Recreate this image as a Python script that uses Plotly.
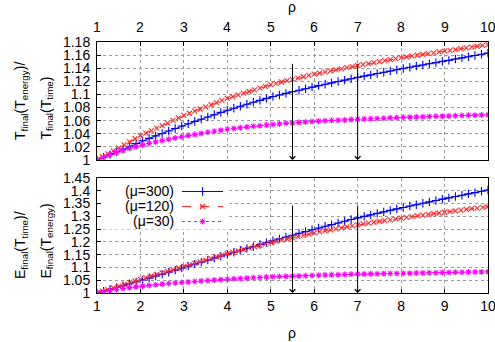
import plotly.graph_objects as go

# ---------------- data ----------------
rho_a = [1.00, 1.15, 1.30, 1.45, 1.60, 1.75, 1.90, 2.05, 2.20, 2.35, 2.50, 2.65, 2.80, 2.95,
         3.10, 3.25, 3.40, 3.55, 3.70, 3.85, 4.00, 4.15, 4.30, 4.45, 4.60, 4.75, 4.90, 5.05,
         5.20, 5.35, 5.50, 5.65, 5.80, 5.95, 6.10, 6.25, 6.40, 6.55, 6.70, 6.85, 7.00, 7.15,
         7.30, 7.45, 7.60, 7.75, 7.90, 8.05, 8.20, 8.35, 8.50, 8.65, 8.80, 8.95, 9.10, 9.25,
         9.40, 9.55, 9.70, 9.85, 10.00]
rho_b = [1.000, 1.125, 1.250, 1.375, 1.500, 1.625, 1.750, 1.875,
         2.000, 2.125, 2.250, 2.375, 2.500, 2.625, 2.750, 2.875,
         3.000, 3.125, 3.250, 3.375, 3.500, 3.625, 3.750, 3.875,
         4.000, 4.125, 4.250, 4.375, 4.500, 4.625, 4.750, 4.875,
         5.000, 5.125, 5.250, 5.375, 5.500, 5.625, 5.750, 5.875,
         6.000, 6.125, 6.250, 6.375, 6.500, 6.625, 6.750, 6.875,
         7.000, 7.125, 7.250, 7.375, 7.500, 7.625, 7.750, 7.875,
         8.000, 8.125, 8.250, 8.375, 8.500, 8.625, 8.750, 8.875,
         9.000, 9.125, 9.250, 9.375, 9.500, 9.625, 9.750, 9.875, 10.000]

# top panel: T_final(T_energy)/T_final(T_time)
top_mu300 = [1.000, 1.0042, 1.0084, 1.0126, 1.0168, 1.021, 1.0252, 1.0293, 1.033, 1.0368,
             1.0405, 1.0443, 1.048, 1.0518, 1.0553, 1.0588, 1.0622, 1.0657, 1.0691, 1.0726,
             1.076, 1.079, 1.082, 1.085, 1.088, 1.091, 1.094, 1.0968, 1.0992, 1.1016,
             1.104, 1.1064, 1.1088, 1.1112, 1.1134, 1.1155, 1.1176, 1.1197, 1.1218, 1.1239,
             1.126, 1.128, 1.1299, 1.1319, 1.1338, 1.1358, 1.1377, 1.1396, 1.1414, 1.1432,
             1.145, 1.1468, 1.1486, 1.1504, 1.152, 1.154, 1.1558, 1.1576, 1.1594, 1.1612, 1.163]
top_mu120 = [1.000, 1.0046, 1.0093, 1.0139, 1.0185, 1.0231, 1.0278, 1.0324,
             1.037, 1.0409, 1.0448, 1.0486, 1.0525, 1.0564, 1.0603, 1.0641,
             1.068, 1.0713, 1.0745, 1.0778, 1.081, 1.0843, 1.0875, 1.0908,
             1.094, 1.0966, 1.0993, 1.1019, 1.1045, 1.1071, 1.1098, 1.1124,
             1.115, 1.117, 1.119, 1.121, 1.123, 1.125, 1.127, 1.129,
             1.131, 1.1326, 1.1343, 1.1359, 1.1375, 1.1391, 1.1408, 1.1424,
             1.144, 1.1455, 1.147, 1.1485, 1.15, 1.1515, 1.153, 1.1545,
             1.156, 1.1573, 1.1585, 1.1598, 1.161, 1.1623, 1.1635, 1.1648,
             1.166, 1.1673, 1.1685, 1.1698, 1.171, 1.1723, 1.1735, 1.1748, 1.176]
top_mu30 = [1.000, 1.0041, 1.0079, 1.0114, 1.0146, 1.0176, 1.0203, 1.0229, 1.0253, 1.0276,
            1.0298, 1.0318, 1.0337, 1.0354, 1.0372, 1.0389, 1.0406, 1.0423, 1.0439, 1.0455,
            1.047, 1.0482, 1.0493, 1.0504, 1.0514, 1.0524, 1.0534, 1.0543, 1.0551, 1.0559,
            1.0566, 1.0574, 1.0581, 1.0588, 1.0593, 1.0598, 1.0602, 1.0607, 1.0611, 1.0616,
            1.062, 1.0625, 1.0629, 1.0634, 1.0638, 1.0643, 1.0647, 1.0651, 1.0654, 1.0657,
            1.066, 1.0663, 1.0666, 1.0669, 1.0672, 1.0675, 1.0678, 1.0681, 1.0684, 1.0687, 1.069]

# bottom panel: E_final(T_time)/E_final(T_energy)
bot_mu300 = [1.000, 1.0072, 1.0144, 1.0216, 1.0288, 1.036, 1.0432, 1.0506, 1.0584, 1.0662,
             1.074, 1.0818, 1.0896, 1.0974, 1.1052, 1.113, 1.1208, 1.1286, 1.1364, 1.1442,
             1.152, 1.1595, 1.167, 1.1745, 1.182, 1.1895, 1.197, 1.2044, 1.2116, 1.2188,
             1.226, 1.2332, 1.2404, 1.2476, 1.2544, 1.261, 1.2676, 1.2742, 1.2808, 1.2874,
             1.294, 1.2999, 1.3057, 1.3116, 1.3174, 1.3233, 1.3291, 1.3348, 1.3402, 1.3456,
             1.351, 1.3564, 1.3618, 1.3672, 1.3724, 1.3775, 1.3826, 1.3877, 1.3928, 1.3979, 1.403]
bot_mu120 = [1.000, 1.0068, 1.0135, 1.0203, 1.027, 1.0338, 1.0405, 1.0473,
             1.054, 1.0603, 1.0665, 1.0728, 1.079, 1.0853, 1.0915, 1.0978,
             1.104, 1.1103, 1.1165, 1.1228, 1.129, 1.1353, 1.1415, 1.1478,
             1.154, 1.1594, 1.1648, 1.1701, 1.1755, 1.1809, 1.1863, 1.1916,
             1.197, 1.2018, 1.2065, 1.2113, 1.216, 1.2208, 1.2255, 1.2303,
             1.235, 1.239, 1.243, 1.247, 1.251, 1.255, 1.259, 1.263,
             1.267, 1.2703, 1.2735, 1.2768, 1.28, 1.2833, 1.2865, 1.2898,
             1.293, 1.2959, 1.2988, 1.3016, 1.3045, 1.3074, 1.3103, 1.3131,
             1.316, 1.3188, 1.3215, 1.3243, 1.327, 1.3298, 1.3325, 1.3353, 1.338]
bot_mu30 = [1.000, 1.0049, 1.0095, 1.0137, 1.0175, 1.021, 1.0241, 1.027, 1.0297, 1.0323,
            1.0348, 1.0371, 1.0393, 1.0413, 1.0433, 1.0452, 1.047, 1.0488, 1.0506, 1.0523,
            1.054, 1.0554, 1.0568, 1.0582, 1.0595, 1.0608, 1.0622, 1.0633, 1.0642, 1.0651,
            1.066, 1.0669, 1.0678, 1.0687, 1.0695, 1.0703, 1.071, 1.0718, 1.0725, 1.0733,
            1.074, 1.0745, 1.0749, 1.0754, 1.0758, 1.0763, 1.0767, 1.0772, 1.0776, 1.0781,
            1.0785, 1.079, 1.0794, 1.0799, 1.0803, 1.0808, 1.0812, 1.0817, 1.0821, 1.0826, 1.083]

x_ticks = [1, 2, 3, 4, 5, 6, 7, 8, 9, 10]
x_ticktext = ["1", "2", "3", "4", "5", "6", "7", "8", "9", "10"]
top_yticks = [1.00, 1.02, 1.04, 1.06, 1.08, 1.10, 1.12, 1.14, 1.16, 1.18]
top_ytext = ["1", "1.02", "1.04", "1.06", "1.08", "1.1", "1.12", "1.14", "1.16", "1.18"]
bot_yticks = [1.00, 1.05, 1.10, 1.15, 1.20, 1.25, 1.30, 1.35, 1.40, 1.45]
bot_ytext = ["1", "1.05", "1.1", "1.15", "1.2", "1.25", "1.3", "1.35", "1.4", "1.45"]

arrow_rho = [5.5, 7.0]
arrow_top_start = 1.149
arrow_bot_start = 1.348

legend_labels = ["(\u03bc=300)", "(\u03bc=120)", "(\u03bc=30)"]
legend_rows = [2, 1, 0]

# ---------------- styles ----------------
FONT = "Liberation Sans, Arial, Helvetica, sans-serif"
BLUE = "#0000ff"
RED = "#ff2a2a"
MAG = "#ff00ff"
styles = [
    dict(color=BLUE, dash="solid", symbol="cross-thin-open", size=6),
    dict(color=RED, dash="dash", symbol="x-thin-open", size=5),
    dict(color=MAG, dash="dot", symbol="asterisk-open", size=5),
]

fig = go.Figure()

series_top = [(rho_a, top_mu300), (rho_b, top_mu120), (rho_a, top_mu30)]
series_bot = [(rho_a, bot_mu300), (rho_b, bot_mu120), (rho_a, bot_mu30)]


def marker_for(st):
    return dict(symbol=st["symbol"], size=st["size"], color=st["color"],
                line=dict(color=st["color"], width=1.1))


for (xs, ys), st in zip(series_top, styles):
    fig.add_trace(go.Scatter(
        x=xs, y=ys, xaxis="x2", yaxis="y2", mode="lines+markers",
        line=dict(color=st["color"], dash=st["dash"], width=1),
        marker=marker_for(st), showlegend=False, hoverinfo="skip"))

for (xs, ys), st in zip(series_bot, styles):
    fig.add_trace(go.Scatter(
        x=xs, y=ys, xaxis="x", yaxis="y", mode="lines+markers",
        line=dict(color=st["color"], dash=st["dash"], width=1),
        marker=marker_for(st), showlegend=False, hoverinfo="skip"))

# custom legend (text left, sample right) on a hidden axis pair
for row, st in zip(legend_rows, styles):
    fig.add_trace(go.Scatter(
        x=[0, 1], y=[row, row], xaxis="x3", yaxis="y3", mode="lines",
        line=dict(color=st["color"], dash=st["dash"], width=1),
        showlegend=False, hoverinfo="skip"))
    fig.add_trace(go.Scatter(
        x=[0.5], y=[row], xaxis="x3", yaxis="y3", mode="markers",
        marker=marker_for(st), showlegend=False, hoverinfo="skip"))

axis_common = dict(
    showline=True, linecolor="black", linewidth=1, mirror=True,
    ticks="inside", ticklen=4, tickcolor="black", tickwidth=1,
    showgrid=True, gridcolor="#9a9a9a", griddash="dot", gridwidth=1,
    zeroline=False, tickfont=dict(family=FONT, size=14, color="black"),
    ticklabeloverflow="allow",
)

W, H = 495, 342
ML, MR, MT, MB = 97, 7, 42, 49
PH = H - MT - MB
PW = W - ML - MR


def py(real_y):
    return (H - MB - real_y) / PH


def px(real_x):
    return (real_x - ML) / PW


fig.update_layout(
    width=W, height=H,
    margin=dict(l=ML, r=MR, t=MT, b=MB, autoexpand=False),
    paper_bgcolor="white", plot_bgcolor="white",
    showlegend=False,
    font=dict(family=FONT, size=14, color="black"),
    xaxis=dict(axis_common, domain=[0, 1], range=[1, 10], anchor="y",
               tickvals=x_ticks, ticktext=x_ticktext, side="bottom"),
    yaxis=dict(axis_common, domain=[0, py(178)], range=[1, 1.45], anchor="x",
               tickvals=bot_yticks, ticktext=bot_ytext, ticklabelstandoff=3),
    xaxis2=dict(axis_common, domain=[0, 1], range=[1, 10], anchor="y2",
                tickvals=x_ticks, side="top", showticklabels=False),
    yaxis2=dict(axis_common, domain=[py(160), 1], range=[1, 1.18], anchor="x2",
                tickvals=top_yticks, ticktext=top_ytext, ticklabelstandoff=3),
    xaxis3=dict(domain=[px(182), px(223)], range=[0, 1], anchor="y3",
                visible=False, fixedrange=True),
    yaxis3=dict(domain=[py(229), py(184)], range=[-0.5, 2.5], anchor="x3",
                visible=False, fixedrange=True),
)

# white box behind legend (covers grid)
fig.add_shape(type="rect", xref="x", yref="y", x0=1.02, x1=4.05, y0=1.248, y1=1.448,
              fillcolor="white", line=dict(width=0), layer="between")

annotations = []
# top axis tick labels, placed on the top x axis scale
for tv, tt in zip(x_ticks, x_ticktext):
    annotations.append(dict(text=tt, xref="x2", yref="paper", x=tv, y=py(27),
                            xanchor="center", yanchor="middle", showarrow=False,
                            font=dict(family=FONT, size=14, color="black")))

for lab, row in zip(legend_labels, legend_rows):
    annotations.append(dict(text=lab, xref="paper", yref="y3", x=px(176), y=row,
                            xanchor="right", yanchor="middle", showarrow=False,
                            font=dict(family=FONT, size=14, color="black")))

# arrows
for r in arrow_rho:
    annotations.append(dict(x=r, y=1.0, ax=r, ay=arrow_top_start, xref="x2", yref="y2",
                            axref="x2", ayref="y2", showarrow=True, arrowhead=4,
                            arrowsize=1.1, arrowwidth=1, arrowcolor="black", text=""))
    annotations.append(dict(x=r, y=1.0, ax=r, ay=arrow_bot_start, xref="x", yref="y",
                            axref="x", ayref="y", showarrow=True, arrowhead=4,
                            arrowsize=1.1, arrowwidth=1, arrowcolor="black", text=""))

# axis titles
annotations.append(dict(text="\u03c1", xref="paper", yref="paper", x=px(292), y=py(-3),
                        xanchor="center", yanchor="top", showarrow=False,
                        font=dict(family=FONT, size=14)))
annotations.append(dict(text="\u03c1", xref="paper", yref="paper", x=px(292), y=py(333),
                        xanchor="center", yanchor="middle", showarrow=False,
                        font=dict(family=FONT, size=14)))

ytitles = [
    ("T<sub>final</sub>(T<sub>energy</sub>)/", 21, 142),
    ("T<sub>final</sub>(T<sub>time</sub>)", 46, 142),
    ("E<sub>final</sub>(T<sub>time</sub>)/", 21, 281),
    ("E<sub>final</sub>(T<sub>energy</sub>)", 46, 281),
]
for txt, rx, ry in ytitles:
    annotations.append(dict(text=txt, xref="paper", yref="paper", x=px(rx), y=py(ry),
                            xanchor="center", yanchor="bottom", textangle=-90,
                            showarrow=False, font=dict(family=FONT, size=14)))

fig.update_layout(annotations=annotations)

fig.write_html("out.html")
